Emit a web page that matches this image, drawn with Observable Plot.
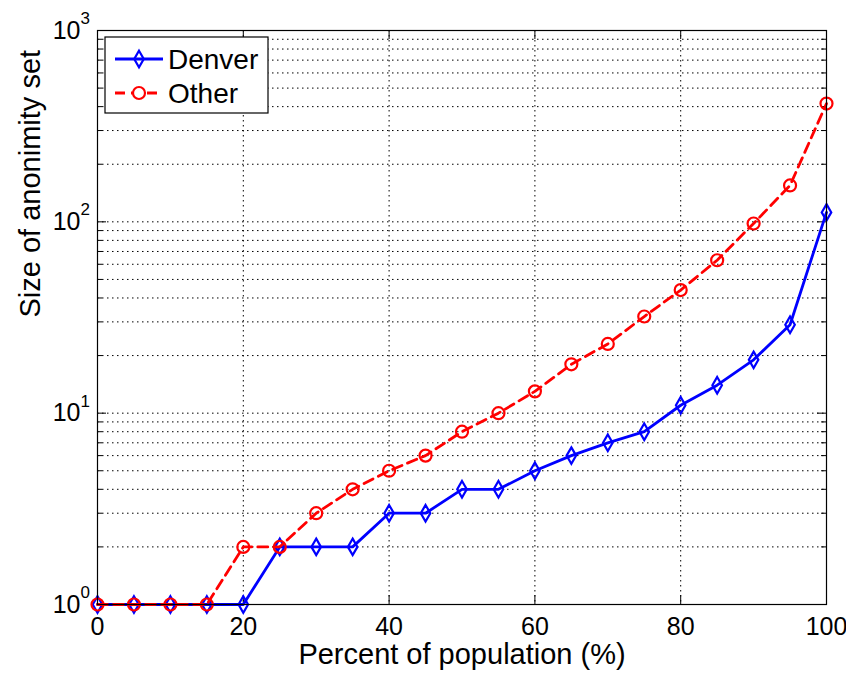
<!DOCTYPE html>
<html>
<head>
<meta charset="utf-8">
<script src="https://cdn.jsdelivr.net/npm/d3@7"></script>
<script src="https://cdn.jsdelivr.net/npm/@observablehq/plot@0.6"></script>
<style>
  html, body { margin: 0; padding: 0; background: #fff; overflow: hidden; }
  #chart { width: 846px; height: 675px; }
</style>
</head>
<body>
<div id="chart"></div>
<script>
// ---- data ----
const percent = [0, 5, 10, 15, 20, 25, 30, 35, 40, 45, 50, 55, 60, 65, 70, 75, 80, 85, 90, 95, 100];
const denver  = [1, 1, 1, 1, 1, 2, 2, 2, 3, 3, 4, 4, 5, 6, 7, 8, 11, 14, 19, 29, 112];
const other   = [1, 1, 1, 1, 2, 2, 3, 4, 5, 6, 8, 10, 13, 18, 23, 32, 44, 63, 98, 155, 415];
const seriesNames = ["Denver", "Other"];
const xTicks = [0, 20, 40, 60, 80, 100];
const xGrid = [20, 40, 60, 80];
const yMajor = [1, 10, 100, 1000];
const yInnerMajor = [10, 100];
const yMinor = [2,3,4,5,6,7,8,9,20,30,40,50,60,70,80,90,200,300,400,500,600,700,800,900];
const xLabel = "Percent of population (%)";
const yLabel = "Size of anonimity set";

const W = 846, H = 675;
const mL = 97, mR = 20, mT = 30, mB = 71;
const pw = W - mL - mR, ph = H - mT - mB;
const FONT = "'Liberation Sans', Arial, Helvetica, sans-serif";

const rowsD = percent.map((p, i) => ({x: p, y: denver[i]}));
const rowsO = percent.map((p, i) => ({x: p, y: other[i]}));

const dotted = {stroke: "#000", strokeWidth: 1, strokeDasharray: "1.5,3.5", strokeOpacity: 1};

const plot = Plot.plot({
  width: W, height: H,
  marginLeft: mL, marginRight: mR, marginTop: mT, marginBottom: mB,
  style: {fontFamily: FONT, fontSize: "25px", color: "#000", background: "#fff", overflow: "visible"},
  x: {domain: [0, 100], axis: null},
  y: {type: "log", domain: [1, 1000], axis: null},
  marks: [
    // grid
    Plot.ruleX(xGrid, {x: d => d, ...dotted}),
    Plot.ruleY(yMinor.concat(yInnerMajor), {y: d => d, ...dotted}),
    // inside ticks (left/right)
    Plot.tickY(yInnerMajor, {y: d => d, stroke: "#000", insetRight: pw - 9}),
    Plot.tickY(yInnerMajor, {y: d => d, stroke: "#000", insetLeft: pw - 9}),
    Plot.tickY(yMinor, {y: d => d, stroke: "#000", insetRight: pw - 5}),
    Plot.tickY(yMinor, {y: d => d, stroke: "#000", insetLeft: pw - 5}),
    // inside ticks (bottom/top)
    Plot.tickX(xGrid, {x: d => d, stroke: "#000", insetTop: ph - 9}),
    Plot.tickX(xGrid, {x: d => d, stroke: "#000", insetBottom: ph - 9}),
    // series
    Plot.line(rowsD, {x: "x", y: "y", stroke: "#0000ff", strokeWidth: 2.8}),
    Plot.dot(rowsD, {x: "x", y: "y", symbol: "diamond", r: 5, stroke: "#0000ff", strokeWidth: 2.2, fill: "none"}),
    Plot.line(rowsO, {x: "x", y: "y", stroke: "#ff0000", strokeWidth: 2.8, strokeDasharray: "10,6"}),
    Plot.dot(rowsO, {x: "x", y: "y", symbol: "circle", r: 6, stroke: "#ff0000", strokeWidth: 2.2, fill: "none"}),
    // frame
    Plot.frame({stroke: "#000", strokeWidth: 1.2}),
    // x axis labels
    Plot.axisX(xTicks, {tickSize: 0, tickPadding: 13, fontSize: 25, label: null}),
    // y axis labels 10^n
    Plot.text(yMajor, {y: d => d, text: () => "10", frameAnchor: "left", textAnchor: "end", dx: -17, fontSize: 25}),
    Plot.text(yMajor, {y: d => d, text: d => String(Math.round(Math.log10(d))), frameAnchor: "left", textAnchor: "start", dx: -17, dy: -12, fontSize: 17}),
    // axis titles
    Plot.text([yLabel], {text: d => d, frameAnchor: "left", dx: -67, rotate: -90, fontSize: 29}),
    Plot.text([xLabel], {text: d => d, frameAnchor: "bottom", dy: 59, fontSize: 29})
  ]
});

document.getElementById("chart").appendChild(plot);

// ---- legend (inside plot, top-left) ----
const svg = d3.select(plot);
const lg = svg.append("g").attr("font-family", FONT).attr("font-size", 28).attr("text-anchor", "start");
lg.append("rect").attr("x", 105).attr("y", 37).attr("width", 163).attr("height", 76)
  .attr("fill", "#fff").attr("stroke", "#000").attr("stroke-width", 1.2);
const legendItems = [
  {name: seriesNames[0], color: "#0000ff", dash: null, symbol: d3.symbolDiamond, cy: 59},
  {name: seriesNames[1], color: "#ff0000", dash: "10,6", symbol: d3.symbolCircle, cy: 93}
];
legendItems.forEach(it => {
  lg.append("line").attr("x1", 115).attr("x2", 163).attr("y1", it.cy).attr("y2", it.cy)
    .attr("stroke", it.color).attr("stroke-width", 2.8)
    .attr("stroke-dasharray", it.dash);
  const rr = it.symbol === d3.symbolCircle ? 6 : 5;
  lg.append("path").attr("transform", `translate(139,${it.cy})`)
    .attr("d", d3.symbol(it.symbol, Math.PI * rr * rr)())
    .attr("fill", it.dash ? "#fff" : "none").attr("stroke", it.color).attr("stroke-width", 2.2);
  lg.append("text").attr("x", 168).attr("y", it.cy).attr("dy", "0.36em").attr("text-anchor", "start").text(it.name);
});
</script>
</body>
</html>
